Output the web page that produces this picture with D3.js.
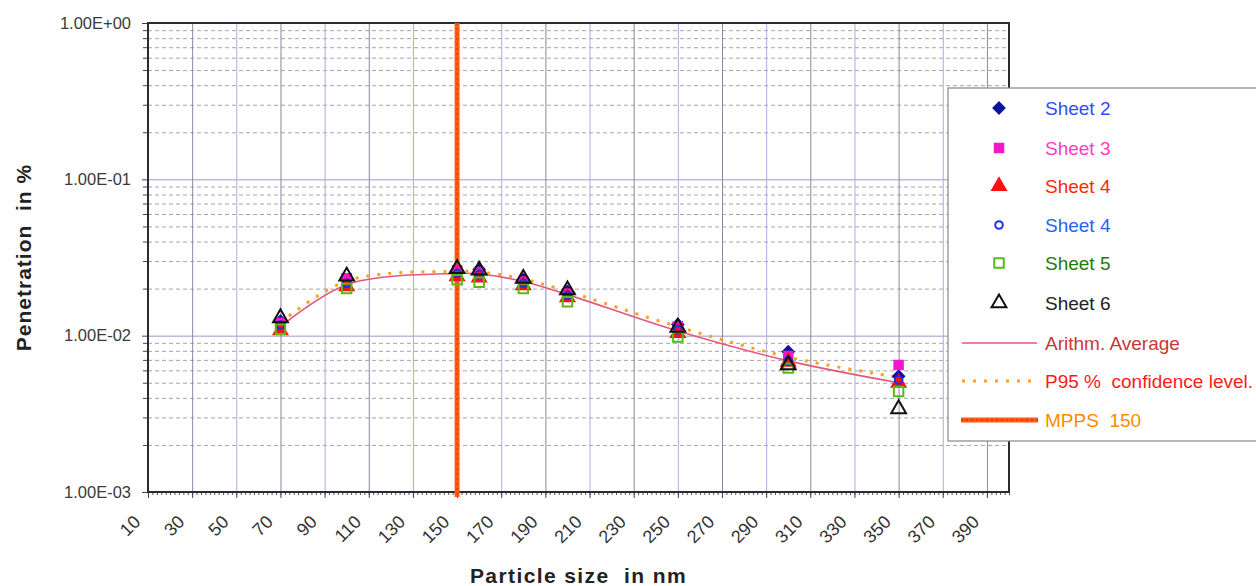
<!DOCTYPE html>
<html><head><meta charset="utf-8">
<script src="https://cdn.jsdelivr.net/npm/d3@7"></script>
<style>
html,body{margin:0;padding:0;background:#fff;}
svg{display:block;font-family:"Liberation Sans",Arial,sans-serif;}
text{white-space:pre;}
</style></head>
<body><svg id="chart" width="1256" height="586"></svg>
<script>
// ---- data ----
const particleSizes = [70, 100, 150, 160, 180, 200, 250, 300, 350];
const sheet2  = [0.0124, 0.0228, 0.0258, 0.0265, 0.0228, 0.0192, 0.0118, 0.0079, 0.0055];
const sheet3  = [0.0121, 0.0233, 0.0262, 0.0255, 0.0222, 0.0186, 0.0115, 0.0074, 0.0065];
const sheet4  = [0.0108, 0.0207, 0.0240, 0.0235, 0.0210, 0.0176, 0.0104, 0.0068, 0.0050];
const sheet4b = [0.0117, 0.0216, 0.0250, 0.0246, 0.0216, 0.0181, 0.0109, 0.0069, 0.0052];
const sheet5  = [0.0110, 0.0200, 0.0228, 0.0220, 0.0200, 0.0165, 0.0098, 0.0062, 0.0044];
const sheet6  = [0.0130, 0.0240, 0.0268, 0.0262, 0.0232, 0.0196, 0.0113, 0.0065, 0.0034];
const arithmAverage = [0.0114, 0.0212, 0.0250, 0.0248, 0.0222, 0.0183, 0.0107, 0.0069, 0.0050];
const p95Level      = [0.0121, 0.0224, 0.0258, 0.0256, 0.0230, 0.0192, 0.0114, 0.0073, 0.0054];
const mpps = 150;
const xTickValues = [10,30,50,70,90,110,130,150,170,190,210,230,250,270,290,310,330,350,370,390];
const yTickValues = [1, 0.1, 0.01, 0.001];
const yTickLabels = ["1.00E+00", "1.00E-01", "1.00E-02", "1.00E-03"];
const legendLabels = ["Sheet 2","Sheet 3","Sheet 4","Sheet 4","Sheet 5","Sheet 6","Arithm. Average","P95 %  confidence level.","MPPS  150"];

// ---- layout ----
const L = 148, R = 1009, T = 23, B = 492;
const svg = d3.select("#chart");
const x = d3.scaleLinear().domain([10, 400]).range([L, R]);
const y = d3.scaleLog().domain([0.001, 1]).range([B, T]);

// minor horizontal gridlines
const minorY = [];
[0.001, 0.01, 0.1].forEach(d => { for (let k = 2; k <= 9; k++) minorY.push(d * k); });
svg.append("g").attr("transform", `translate(${L},0)`)
  .call(d3.axisLeft(y).tickValues(minorY).tickSize(-(R - L)).tickFormat(""))
  .call(g => g.select(".domain").remove())
  .call(g => g.selectAll("line").attr("stroke", "#a4a4ae").attr("stroke-dasharray", "4,3"));

// major horizontal gridlines
svg.append("g").attr("transform", `translate(${L},0)`)
  .call(d3.axisLeft(y).tickValues([0.1, 0.01]).tickSize(-(R - L)).tickFormat(""))
  .call(g => g.select(".domain").remove())
  .call(g => g.selectAll("line").attr("stroke", "#9a9ac4"));

// vertical gridlines
svg.append("g").attr("transform", `translate(0,${B})`)
  .call(d3.axisBottom(x).tickValues(xTickValues).tickSize(-(B - T)).tickFormat(""))
  .call(g => g.select(".domain").remove())
  .call(g => g.selectAll("line").attr("stroke", (d, i) => i % 2 ? "#8e86a4" : "#a8b0d8"));

// minor x ticks
svg.append("g").attr("transform", `translate(0,${B})`)
  .call(d3.axisBottom(x).tickValues(d3.range(10, 401, 2)).tickSize(3).tickFormat(""))
  .call(g => g.select(".domain").remove())
  .call(g => g.selectAll("line").attr("stroke", "#555"));

// major x axis with labels
svg.append("g").attr("transform", `translate(0,${B})`)
  .call(d3.axisBottom(x).tickValues(xTickValues).tickSize(6).tickFormat(d3.format("d")))
  .call(g => g.select(".domain").remove())
  .call(g => g.selectAll("line").attr("stroke", "#444"))
  .call(g => g.selectAll("text")
      .attr("font-size", 18).attr("fill", "#333")
      .attr("text-anchor", "end")
      .attr("transform", "translate(-7,31) rotate(-45)")
      .attr("x", 0).attr("y", 0).attr("dy", 0));

// y axis minor ticks
svg.append("g").attr("transform", `translate(${L},0)`)
  .call(d3.axisLeft(y).tickValues(minorY).tickSize(5).tickFormat(""))
  .call(g => g.select(".domain").remove())
  .call(g => g.selectAll("line").attr("stroke", "#444"));

// y axis labels
svg.append("g").attr("transform", `translate(${L},0)`)
  .call(d3.axisLeft(y).tickValues(yTickValues).tickSize(6)
        .tickFormat(d => yTickLabels[yTickValues.indexOf(d)]))
  .call(g => g.select(".domain").remove())
  .call(g => g.selectAll("line").attr("stroke", "#444"))
  .call(g => g.selectAll("text").attr("font-size", 16.5).attr("fill", "#3a3a3a").attr("x", -17));

// frame
svg.append("rect").attr("x", L).attr("y", T).attr("width", R - L).attr("height", B - T)
  .attr("fill", "none").attr("stroke", "#2a2a33").attr("stroke-width", 2);

// MPPS line
svg.append("line").attr("x1", x(mpps)).attr("x2", x(mpps)).attr("y1", T).attr("y2", B + 5)
  .attr("stroke", "#ff5a14").attr("stroke-width", 5);
svg.append("line").attr("x1", x(mpps)).attr("x2", x(mpps)).attr("y1", T).attr("y2", B + 5)
  .attr("stroke", "#f03a10").attr("stroke-width", 1.5).attr("stroke-dasharray", "2,3");

// lines
const lineGen = arr => d3.line().curve(d3.curveCatmullRom.alpha(0.5))
  .x((d, i) => x(particleSizes[i])).y(d => y(d))(arr);
svg.append("path").attr("d", lineGen(arithmAverage)).attr("fill", "none")
  .attr("stroke", "#e2587a").attr("stroke-width", 1.6);
svg.append("path").attr("d", lineGen(p95Level)).attr("fill", "none")
  .attr("stroke", "#ffa024").attr("stroke-width", 3).attr("stroke-dasharray", "3,8");

// markers
const sym = (type, size) => d3.symbol().type(type).size(size)();
const series = [
  {data: sheet2,  type: d3.symbolSquare,  size: 60, rot: 45, fill: "#0a14a0", stroke: "#0a14a0"},
  {data: sheet3,  type: d3.symbolSquare,  size: 72, rot: 0, fill: "#f018c8", stroke: "#f018c8"},
  {data: sheet4,  type: d3.symbolTriangle,size: 80, rot: 0, fill: "#ff1010", stroke: "#ff1010"},
  {data: sheet4b, type: d3.symbolCircle,  size: 45, rot: 0, fill: "none",    stroke: "#2030e0"},
  {data: sheet5,  type: d3.symbolSquare,  size: 90, rot: 0, fill: "none",    stroke: "#5cb814"},
  {data: sheet6,  type: d3.symbolTriangle,size: 95, rot: 0, fill: "none",    stroke: "#111"}
];
series.forEach(s => {
  svg.append("g").selectAll("path").data(s.data).join("path")
    .attr("d", sym(s.type, s.size))
    .attr("transform", (d, i) => `translate(${x(particleSizes[i])},${y(d)}) rotate(${s.rot})`)
    .attr("fill", s.fill).attr("stroke", s.stroke).attr("stroke-width", 2);
});

// axis titles
svg.append("text").attr("x", (L + R) / 2).attr("y", 583).attr("text-anchor", "middle")
  .attr("font-size", 21).attr("font-weight", "bold").attr("letter-spacing", 1.4).attr("fill", "#222")
  .text("Particle size  in nm");
svg.append("text").attr("transform", `translate(31,${(T + B) / 2}) rotate(-90)`).attr("text-anchor", "middle")
  .attr("font-size", 21).attr("font-weight", "bold").attr("letter-spacing", 1).attr("fill", "#222")
  .text("Penetration  in %");

// legend
const lg = svg.append("g");
lg.append("rect").attr("x", 948).attr("y", 88).attr("width", 320).attr("height", 353)
  .attr("fill", "#fff").attr("stroke", "#888").attr("stroke-width", 1.2);
const legendY = [108, 148, 186, 225, 263, 303, 343, 381, 420];
const legendColors = ["#2f4cf5", "#ff3cc8", "#ff2a00", "#2a62f0", "#1f7a0a", "#222", "#c8383a", "#ff1a1a", "#ff8a00"];
series.forEach((s, i) => {
  lg.append("path").attr("d", sym(s.type, s.size))
    .attr("transform", `translate(999,${legendY[i]}) rotate(${s.rot})`)
    .attr("fill", s.fill).attr("stroke", s.stroke).attr("stroke-width", 2);
});
lg.append("line").attr("x1", 962).attr("x2", 1037).attr("y1", legendY[6]).attr("y2", legendY[6])
  .attr("stroke", "#e2587a").attr("stroke-width", 1.6);
lg.append("line").attr("x1", 962).attr("x2", 1035).attr("y1", legendY[7]).attr("y2", legendY[7])
  .attr("stroke", "#ffa024").attr("stroke-width", 3).attr("stroke-dasharray", "3,8");
lg.append("line").attr("x1", 961).attr("x2", 1038).attr("y1", legendY[8]).attr("y2", legendY[8])
  .attr("stroke", "#ff5a14").attr("stroke-width", 5);
lg.append("line").attr("x1", 961).attr("x2", 1038).attr("y1", legendY[8]).attr("y2", legendY[8])
  .attr("stroke", "#e82a10").attr("stroke-width", 1.5).attr("stroke-dasharray", "2,3");
legendLabels.forEach((t, i) => {
  lg.append("text").attr("x", 1045).attr("y", legendY[i]).attr("dy", "0.36em")
    .attr("font-size", 19).attr("fill", legendColors[i]).text(t);
});
</script></body></html>
